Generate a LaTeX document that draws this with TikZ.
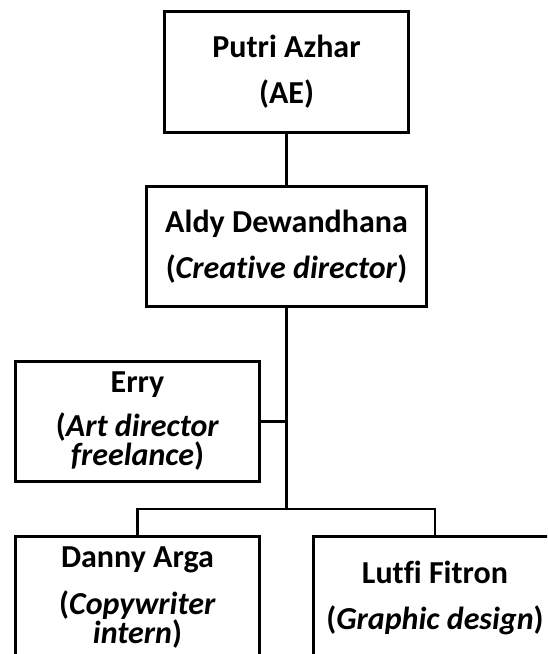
\documentclass[tikz,border=0pt]{standalone}
\usepackage{fontspec}
\setmainfont[Ligatures={NoCommon}]{Carlito}
\tikzset{
  orgbox/.style={draw=black, line width=2.6pt, rectangle, fill=white, align=center,
    inner sep=0pt, font=\bfseries\fontsize{32}{29}\selectfont},
  conn/.style={draw=black, line width=2.6pt}
}
\begin{document}
\begin{tikzpicture}[x=1pt, y=-1pt]
\useasboundingbox (0,0) rectangle (547,654);
\clip (0,0) rectangle (547,654);
\fill[white] (0,0) rectangle (547,654);
\node[orgbox, minimum width=244.5pt, minimum height=121.5pt] (putri) at (286.5,72) {Putri Azhar\\[17pt](AE)};
\node[orgbox, minimum width=280.5pt, minimum height=120.5pt] (aldy) at (286.5,246.5) {Aldy Dewandhana\\[17pt](\textit{Creative director})};
\node[orgbox, minimum width=244.5pt, minimum height=120.5pt] (erry) at (137.5,421.5) {Erry\\[15pt](\textit{Art director}\\\textit{freelance})};
\node[orgbox, minimum width=244.5pt, minimum height=122.5pt] (danny) at (137.5,597.5) {Danny Arga\\[17pt](\textit{Copywriter}\\\textit{intern})};
\node[orgbox, minimum width=243.5pt, minimum height=122.5pt] (lutfi) at (435,597.5) {Lutfi Fitron\\[17pt](\textit{Graphic design})};
\coordinate (bus) at (286.5,509);
\draw[conn] (putri.south) -- (aldy.north);
\draw[conn] (aldy.south) -- (bus);
\draw[conn] (erry.east) -- (erry.east -| bus);
\draw[conn] (danny.north) |- (bus) -| (lutfi.north);
\end{tikzpicture}
\end{document}
